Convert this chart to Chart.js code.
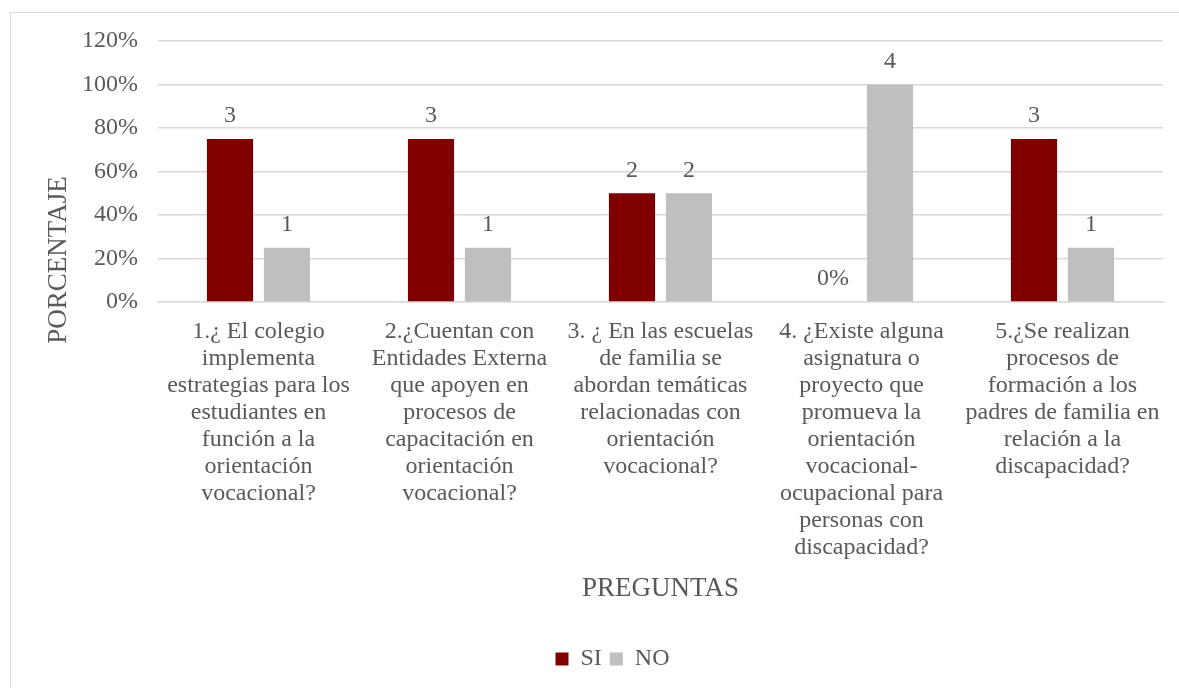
<!DOCTYPE html>
<html>
<head>
<meta charset="utf-8">
<script src="https://cdn.jsdelivr.net/npm/chart.js@4.4.0/dist/chart.umd.min.js"></script>
<style>
  body { margin: 0; background: #fff; overflow: hidden; }
  #frame { position: absolute; left: 10px; top: 12px; width: 1200px; height: 700px; border: 1px solid #d9d9d9; }
  #wrap { position: absolute; left: 0; top: 0; width: 1179px; height: 688px; }
</style>
</head>
<body>
<div id="frame"></div>
<div id="wrap"><canvas id="chart"></canvas></div>
<script>
// Categories (wrapped like the original axis labels)
const preguntas = [
  ["1.¿ El colegio", "implementa", "estrategias para los", "estudiantes en", "función a la", "orientación", "vocacional?"],
  ["2.¿Cuentan con", "Entidades Externa", "que apoyen en", "procesos de", "capacitación en", "orientación", "vocacional?"],
  ["3. ¿ En las escuelas", "de familia se", "abordan temáticas", "relacionadas con", "orientación", "vocacional?"],
  ["4. ¿Existe alguna", "asignatura o", "proyecto que", "promueva la", "orientación", "vocacional-", "ocupacional para", "personas con", "discapacidad?"],
  ["5.¿Se realizan", "procesos de", "formación a los", "padres de familia en", "relación a la", "discapacidad?"]
];

// Percentages
const siValues = [75, 75, 50, 0, 75];
const noValues = [25, 25, 50, 100, 25];

// Labels shown above the bars
const siLabels = ["3", "3", "2", "0%", "3"];
const noLabels = ["1", "1", "2", "4", "1"];

const yTicks = [0, 20, 40, 60, 80, 100, 120];
const yTitle = "PORCENTAJE";

const font = "'Liberation Serif', 'Times New Roman', serif";
const textColor = "#595959";

// counts above each bar + the vertical axis title (Excel puts it lower than the plot centre)
const barLabels = {
  id: "barLabels",
  afterDatasetsDraw(chart) {
    const ctx = chart.ctx;
    ctx.save();
    ctx.font = "24px " + font;
    ctx.fillStyle = textColor;
    ctx.textAlign = "center";
    ctx.textBaseline = "middle";
    chart.data.datasets.forEach((ds, i) => {
      chart.getDatasetMeta(i).data.forEach((bar, j) => {
        ctx.fillText(ds.counts[j], bar.x, bar.y - 23);
      });
    });
    ctx.font = "27px " + font;
    ctx.translate(59, 260);
    ctx.rotate(-Math.PI / 2);
    ctx.fillText(yTitle, 0, 0);
    ctx.restore();
  }
};

new Chart(document.getElementById("chart"), {
  type: "bar",
  data: {
    labels: preguntas,
    datasets: [
      { label: "SI", data: siValues, counts: siLabels, backgroundColor: "#800000" },
      { label: "NO", data: noValues, counts: noLabels, backgroundColor: "#bfbfbf" }
    ]
  },
  options: {
    responsive: true,
    maintainAspectRatio: false,
    animation: false,
    categoryPercentage: 0.567,
    barPercentage: 0.81,
    layout: { padding: { top: 41, right: 16, left: 62, bottom: 7 } },
    plugins: {
      tooltip: { enabled: false },
      legend: {
        position: "bottom",
        labels: {
          boxWidth: 13, boxHeight: 13, padding: 8,
          color: textColor,
          font: { family: font, size: 24 }
        }
      }
    },
    scales: {
      x: {
        // the long labels need more than half the canvas height
        afterFit: axis => { axis.height = 337; },
        grid: { display: false },
        border: { color: "#d9d9d9", width: 1.5 },
        ticks: {
          autoSkip: false, maxRotation: 0, minRotation: 0, padding: 8,
          color: textColor,
          font: { family: font, size: 24, lineHeight: 1.125 }
        },
        title: {
          display: true, text: "PREGUNTAS", color: textColor,
          font: { family: font, size: 27 }, padding: { top: 10, bottom: 34 }
        }
      },
      y: {
        min: 0, max: 120,
        afterBuildTicks: axis => { axis.ticks = yTicks.map(v => ({ value: v })); },
        grid: { color: "#d9d9d9", lineWidth: 1.5, drawTicks: false },
        border: { display: false },
        ticks: {
          padding: 20, color: textColor,
          font: { family: font, size: 24 },
          callback: v => v + "%"
        }
      }
    }
  },
  plugins: [barLabels]
});
</script>
</body>
</html>
